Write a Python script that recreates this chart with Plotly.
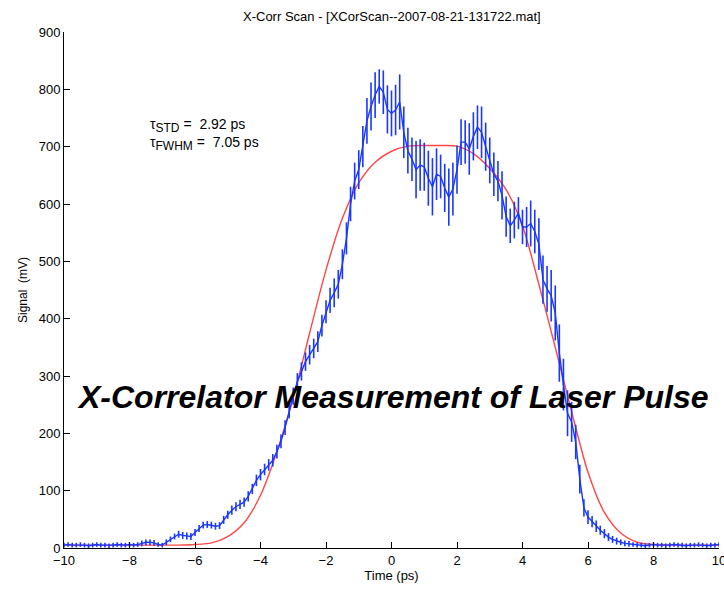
import plotly.graph_objects as go

# Measured cross-correlation scan: delay step 0.125 ps from -10 ps to +10 ps
t_start, t_step = -10.0, 0.125

signal_mv = [
    5, 6, 5, 5, 6, 5, 4, 5,            # -10.0 .. -9.125
    6, 5, 5, 4, 5, 6, 5, 5,            # -9.0 .. -8.125
    6, 5, 6, 8, 10, 10, 9, 6,          # -8.0 .. -7.125
    5, 10, 15, 20, 24, 22, 21, 20,     # -7.0 .. -6.125
    27, 34, 40, 41, 40, 38, 39, 49,    # -6.0 .. -5.125
    58, 66, 72, 76, 80, 90, 103, 118,  # -5.0 .. -4.125
    128, 137, 145, 153, 168, 186, 210, 240,  # -4.0 .. -3.125
    265, 290, 308, 325, 337, 348, 360, 388,  # -3.0 .. -2.125
    412, 432, 445, 460, 495, 540, 600, 640,  # -2.0 .. -1.125
    660, 700, 745, 770, 790, 805, 795, 765,  # -1.0 .. -0.125
    758, 764, 778, 725, 693, 678, 660, 668,  # 0.0 .. 0.875
    665, 645, 630, 652, 648, 628, 612, 626,  # 1.0 .. 1.875
    660, 708, 708, 696, 718, 734, 725, 700,  # 2.0 .. 2.875
    676, 652, 640, 615, 578, 562, 572, 584,  # 3.0 .. 3.875
    560, 560, 566, 552, 530, 468, 452, 440,  # 4.0 .. 4.875
    410, 340, 285, 235, 220, 185, 120, 70,   # 5.0 .. 5.875
    54, 46, 38, 31, 25, 19, 15, 12,    # 6.0 .. 6.875
    10, 8, 7, 6, 5, 5, 4, 5,           # 7.0 .. 7.875
    6, 5, 5, 4, 5, 6, 5, 5,            # 8.0 .. 8.875
    4, 5, 5, 6, 5, 4, 5, 5,            # 9.0 .. 9.875
    6,                                 # 10.0
]

signal_err = [
    4, 4, 4, 4, 4, 4, 4, 4,
    4, 4, 4, 4, 4, 4, 4, 4,
    4, 4, 4, 5, 5, 5, 5, 4,
    4, 5, 5, 5, 6, 6, 6, 6,
    6, 6, 6, 6, 6, 6, 6, 7,
    7, 8, 8, 8, 8, 9, 9, 10,
    10, 10, 10, 11, 12, 12, 13, 14,
    15, 15, 16, 16, 17, 17, 18, 19,
    20, 22, 25, 25, 26, 28, 30, 32,
    34, 36, 40, 42, 40, 30, 38, 42,
    40, 44, 48, 45, 40, 38, 50, 45,
    42, 48, 50, 45, 38, 42, 50, 46,
    42, 40, 38, 45, 42, 38, 45, 42,
    40, 38, 35, 42, 35, 30, 32, 28,
    30, 35, 40, 38, 45, 42, 40, 45,
    48, 50, 45, 40, 35, 30, 25, 15,
    12, 10, 10, 8, 8, 7, 6, 6,
    5, 5, 5, 4, 4, 4, 4, 4,
    4, 4, 4, 4, 4, 4, 4, 4,
    4, 4, 4, 4, 4, 4, 4, 4,
    4,
]

time_ps = [round(t_start + t_step * i, 3) for i in range(len(signal_mv))]

# Flat-top fit curve
fit_time_ps = [-10, -9, -8, -7, -6.5, -6, -5.5, -5, -4.5, -4, -3.5, -3, -2.5,
               -2, -1.5, -1, -0.5, 0, 0.5, 1, 1.5, 2, 2.5, 3, 3.5, 4, 4.5,
               5, 5.5, 6, 6.5, 7, 7.5, 8, 9, 10]
fit_mv = [5, 5, 5, 5, 5, 6, 9, 20, 44, 92, 168, 262, 375,
          485, 575, 637, 673, 692, 701, 702, 702, 701, 688, 662, 625, 562, 460,
          350, 238, 132, 62, 26, 10, 6, 5, 5]

tau_std_ps = 2.92
tau_fwhm_ps = 7.05

x_ticks = list(range(-10, 11, 2))
y_ticks = list(range(0, 901, 100))

font_family = "Liberation Sans, Arial, sans-serif"

fig = go.Figure()

fig.add_trace(go.Scatter(
    x=fit_time_ps, y=fit_mv, mode="lines",
    line=dict(color="rgb(255,70,70)", width=1.4, shape="spline", smoothing=0.8),
    hoverinfo="skip", showlegend=False,
))

fig.add_trace(go.Scatter(
    x=time_ps, y=signal_mv, mode="lines",
    line=dict(color="rgb(25,55,255)", width=1.4),
    error_y=dict(type="data", array=signal_err, visible=True,
                 color="rgb(25,55,255)", thickness=1.6, width=0),
    showlegend=False,
))

fig.add_annotation(
    x=0.5, y=1.0, xref="paper", yref="paper", xanchor="center", yanchor="bottom",
    yshift=6, showarrow=False,
    text="X-Corr Scan - [XCorScan--2007-08-21-131722.mat]",
    font=dict(family=font_family, size=13, color="black"),
)

sub_style = "font-size:12px"
fig.add_annotation(
    x=-7.45, y=722, xref="x", yref="y", xanchor="left", yanchor="middle",
    showarrow=False, align="left",
    text=(f"τ<sub><span style='{sub_style}'>STD</span></sub> =  {tau_std_ps:.2f} ps<br>"
          f"τ<sub><span style='{sub_style}'>FWHM</span></sub> =  {tau_fwhm_ps:.2f} ps"),
    font=dict(family=font_family, size=14, color="black"),
)
fig.add_annotation(
    x=0.05, y=263, xref="x", yref="y", xanchor="center", yanchor="middle",
    showarrow=False,
    text="<b><i>X-Correlator Measurement of Laser Pulse</i></b>",
    font=dict(family=font_family, size=32, color="black"),
)

axis_common = dict(
    showgrid=False, zeroline=False, showline=True, linecolor="black",
    linewidth=1, ticks="inside", ticklen=6, tickcolor="black",
    tickfont=dict(family=font_family, size=13, color="black"),
    mirror=False, ticklabeloverflow="allow", automargin=False,
)

fig.update_xaxes(
    range=[-10, 10], tickmode="array", tickvals=x_ticks,
    ticktext=[str(v).replace("-", "\u2212") for v in x_ticks],
    title=dict(text="Time (ps)", font=dict(family=font_family, size=13, color="black"),
               standoff=4),
    **axis_common,
)
fig.update_yaxes(
    range=[0, 900], tickmode="array", tickvals=y_ticks,
    title=dict(text="Signal  (mV)", font=dict(family=font_family, size=12, color="black"),
               standoff=8),
    **axis_common,
)

fig.update_layout(
    width=724, height=590,
    margin=dict(l=64, r=5, t=32, b=42, autoexpand=False),
    paper_bgcolor="white", plot_bgcolor="white",
    font=dict(family=font_family, color="black"),
)

fig.write_html("out.html")
